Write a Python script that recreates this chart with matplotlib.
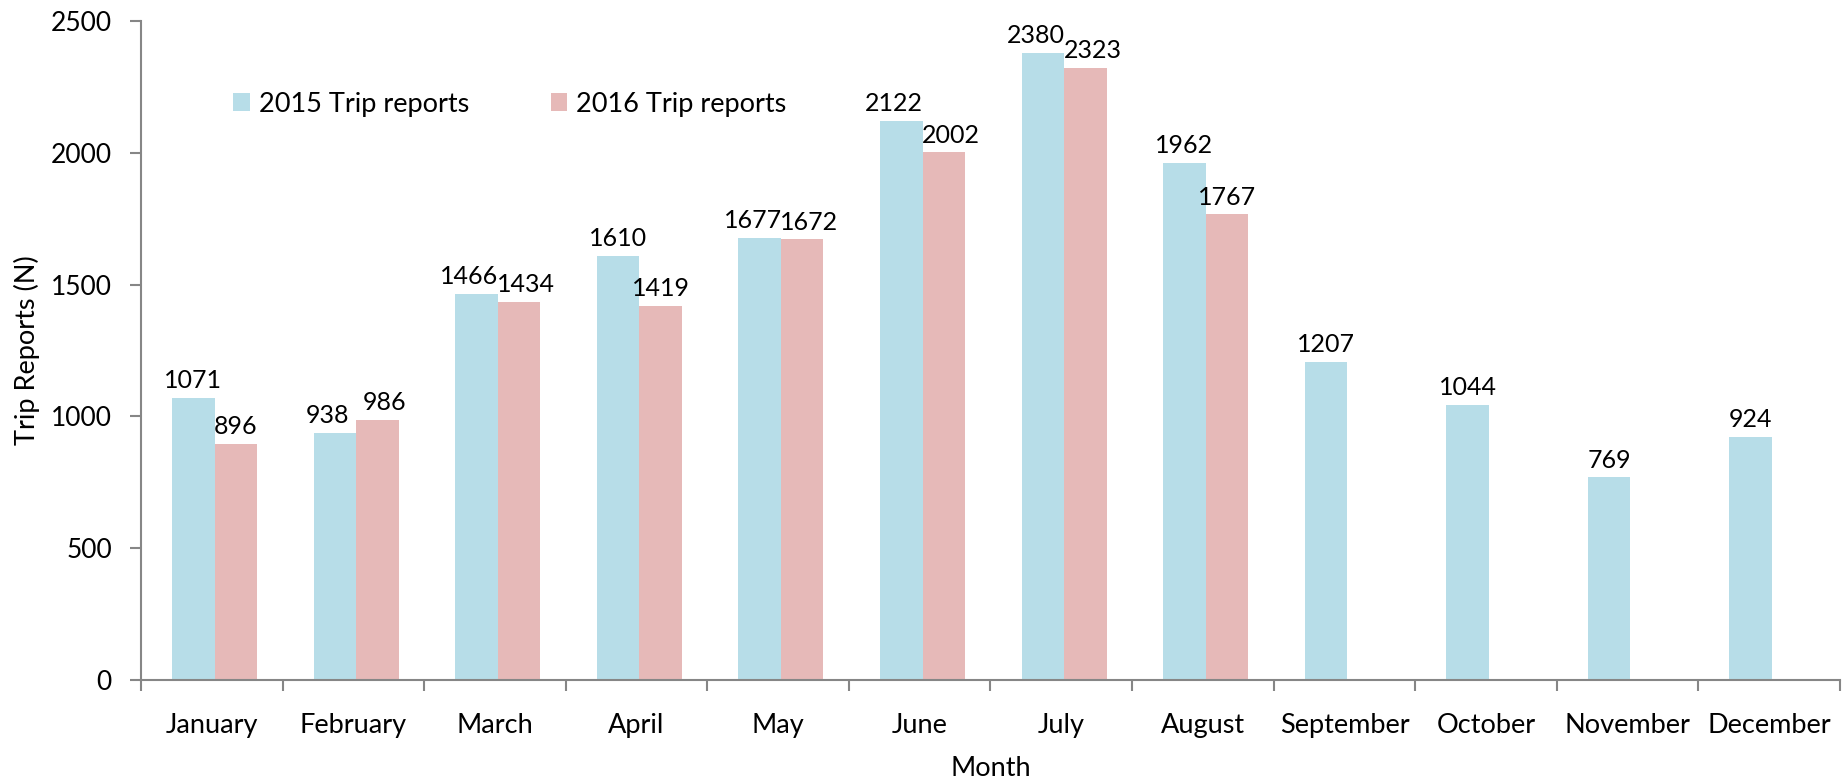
#!/usr/bin/env python
import numpy as np
import matplotlib
matplotlib.use('Agg')
import matplotlib.pyplot as plt
from matplotlib.ticker import FixedLocator

months = ['January', 'February', 'March', 'April', 'May', 'June', 'July',
          'August', 'September', 'October', 'November', 'December']
trips_2015 = [1071, 938, 1466, 1610, 1677, 2122, 2380, 1962, 1207, 1044, 769, 924]
trips_2016 = [896, 986, 1434, 1419, 1672, 2002, 2323, 1767, None, None, None, None]

plt.rcParams['font.family'] = ['Lato', 'DejaVu Sans']

c2015 = '#b7dde8'
c2016 = '#e6b9b8'
grey = '#868686'

fig = plt.figure(figsize=(18.46, 7.83), dpi=100)
ax = fig.add_axes([0.0764, 0.1315, 0.9203, 0.8415])

x = np.arange(len(months))
w = 0.3
y16 = np.array([np.nan if v is None else v for v in trips_2016], dtype=float)

ax.bar(x - w / 2 + 0.02, trips_2015, w, color=c2015, label='2015 Trip reports')
ax.bar(x + w / 2 + 0.02, y16, w, color=c2016, label='2016 Trip reports')

# value labels, nudged apart when the two bars are close in height
for xi, a, b in zip(x, trips_2015, trips_2016):
    nudge = 0.05 if (b is not None and abs(a - b) < 150) else 0.0
    ax.text(xi - w / 2 + 0.02 - nudge, a + 22, str(a), ha='center', va='bottom', fontsize=18)
    if b is not None:
        ax.text(xi + w / 2 + 0.02 + nudge, b + 22, str(b), ha='center', va='bottom', fontsize=18)

ax.set_xlim(-0.5, 11.5)
ax.set_ylim(0, 2500)
ax.set_yticks(range(0, 2501, 500))
ax.set_xticks(x)
ax.set_xticklabels(months, fontsize=19.5)
ax.xaxis.set_minor_locator(FixedLocator(np.arange(-0.5, 12, 1)))
ax.tick_params(axis='x', which='major', length=0, pad=24)
ax.tick_params(axis='x', which='minor', length=8, color=grey, width=1.5)
ax.tick_params(axis='y', labelsize=19, length=8, color=grey, width=1.5, pad=13)

for s in ['top', 'right']:
    ax.spines[s].set_visible(False)
for s in ['left', 'bottom']:
    ax.spines[s].set_color(grey)
    ax.spines[s].set_linewidth(1.5)

ax.set_xlabel('Month', fontsize=19.5, labelpad=13)
ax.set_ylabel('Trip Reports (N)', fontsize=19.5, labelpad=8)

ax.legend(loc='upper left', bbox_to_anchor=(0.04, 0.93), ncol=2, frameon=False,
          fontsize=19.5, handlelength=0.6, handleheight=0.6, handletextpad=0.35,
          columnspacing=3.0)

plt.savefig('out.png', dpi=100)
plt.close(fig)
